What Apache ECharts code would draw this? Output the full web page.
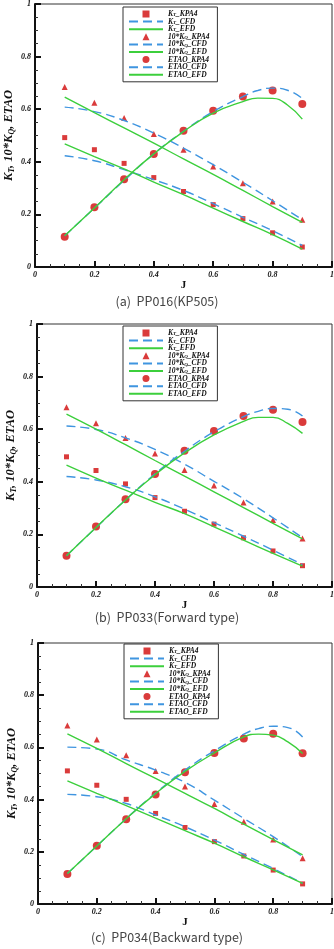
<!DOCTYPE html>
<html><head><meta charset="utf-8">
<script src="https://cdn.jsdelivr.net/npm/echarts@6/dist/echarts.min.js"></script>
<style>html,body{margin:0;padding:0;background:#fff;}#c{width:334px;height:949px;}</style>
</head><body><div id="c"></div>
<script>
// ---- data ----
const jPts = [0.1,0.2,0.3,0.4,0.5,0.6,0.7,0.8,0.9];
const jCurve = [0.1,0.2,0.3,0.4,0.5,0.6,0.7,0.75,0.8,0.85,0.9];
const captions = ['(a)  PP016(KP505)','(b)  PP033(Forward type)','(c)  PP034(Backward type)'];
const seriesNames = ['KT_KPA4','KT_CFD','KT_EFD','10KQ_KPA4','10KQ_CFD','10KQ_EFD','ETAO_KPA4','ETAO_CFD','ETAO_EFD'];

// chart (a)
const ktKpaA = [0.492,0.446,0.394,0.340,0.287,0.237,0.184,0.130,0.076];
const ktCfdA = [0.423,0.404,0.370,0.332,0.291,0.241,0.189,0.138,0.082];
const ktEfdA = [0.468,0.420,0.373,0.323,0.275,0.224,0.173,0.123,0.068];
const kqKpaA = [0.684,0.625,0.567,0.506,0.446,0.382,0.318,0.249,0.180];
const kqCfdA = [0.608,0.591,0.557,0.509,0.452,0.389,0.322,0.252,0.180];
const kqEfdA = [0.646,0.587,0.529,0.471,0.411,0.352,0.291,0.230,0.170];
const etaKpaA = [0.115,0.227,0.334,0.430,0.518,0.594,0.648,0.671,0.620];
const etaCfdA = [0.119,0.224,0.329,0.430,0.516,0.591,0.648,0.671,0.680,0.672,0.641];
const etaEfdA = [0.119,0.224,0.332,0.430,0.515,0.585,0.629,0.642,0.641,0.616,0.562];

// chart (b)
const ktKpaB = [0.495,0.443,0.392,0.340,0.288,0.239,0.187,0.137,0.081];
const ktCfdB = [0.420,0.407,0.381,0.343,0.296,0.245,0.193,0.140,0.085];
const ktEfdB = [0.463,0.414,0.368,0.322,0.279,0.229,0.178,0.128,0.079];
const kqKpaB = [0.683,0.623,0.567,0.508,0.445,0.386,0.321,0.255,0.184];
const kqCfdB = [0.612,0.599,0.567,0.523,0.467,0.402,0.336,0.263,0.188];
const kqEfdB = [0.657,0.600,0.541,0.481,0.422,0.362,0.302,0.242,0.183];
const etaKpaB = [0.119,0.230,0.334,0.430,0.518,0.593,0.650,0.674,0.627];
const etaCfdB = [0.119,0.226,0.331,0.430,0.516,0.590,0.648,0.668,0.679,0.676,0.650];
const etaEfdB = [0.119,0.226,0.331,0.427,0.510,0.578,0.630,0.645,0.645,0.622,0.584];

// chart (c)
const ktKpaC = [0.510,0.455,0.401,0.347,0.293,0.239,0.184,0.130,0.077];
const ktCfdC = [0.420,0.411,0.385,0.341,0.296,0.245,0.190,0.136,0.079];
const ktEfdC = [0.472,0.424,0.377,0.329,0.281,0.233,0.181,0.131,0.079];
const kqKpaC = [0.684,0.630,0.570,0.510,0.450,0.383,0.315,0.247,0.175];
const kqCfdC = [0.601,0.594,0.552,0.513,0.466,0.398,0.328,0.258,0.181];
const kqEfdC = [0.652,0.596,0.538,0.481,0.424,0.366,0.306,0.247,0.188];
const etaKpaC = [0.115,0.223,0.325,0.420,0.505,0.579,0.634,0.652,0.578];
const etaCfdC = [0.117,0.222,0.327,0.425,0.513,0.587,0.651,0.672,0.681,0.676,0.640];
const etaEfdC = [0.117,0.222,0.327,0.423,0.508,0.579,0.640,0.651,0.647,0.621,0.577];

// ---- layout ----
const RED = '#d10a0a', BLUE = '#3f95e0', GREEN = '#3ccf3c';
const SERIF = '"Liberation Serif","DejaVu Serif",serif';
const panels = [
  {grid:{left:35, top:4, width:297, height:263}, legend:{left:123, top:7}, capTop:295,
   d:[ktKpaA,ktCfdA,ktEfdA,kqKpaA,kqCfdA,kqEfdA,etaKpaA,etaCfdA,etaEfdA]},
  {grid:{left:37, top:324, width:295, height:263}, legend:{left:123, top:326}, capTop:611,
   d:[ktKpaB,ktCfdB,ktEfdB,kqKpaB,kqCfdB,kqEfdB,etaKpaB,etaCfdB,etaEfdB]},
  {grid:{left:38, top:643, width:294, height:261}, legend:{left:124, top:644}, capTop:931,
   d:[ktKpaC,ktCfdC,ktEfdC,kqKpaC,kqCfdC,kqEfdC,etaKpaC,etaCfdC,etaEfdC]}
];

function pairs(xs, ys){ return xs.map((x,i)=>[x, ys[i]]); }

const legendLabel = {
  'KT_KPA4':'{n|K}{s|T}{n|_KPA4}','KT_CFD':'{n|K}{s|T}{n|_CFD}','KT_EFD':'{n|K}{s|T}{n|_EFD}',
  '10KQ_KPA4':'{n|10*K}{s|Q}{n|_KPA4}','10KQ_CFD':'{n|10*K}{s|Q}{n|_CFD}','10KQ_EFD':'{n|10*K}{s|Q}{n|_EFD}',
  'ETAO_KPA4':'{n|ETAO_KPA4}','ETAO_CFD':'{n|ETAO_CFD}','ETAO_EFD':'{n|ETAO_EFD}'
};
const legendIcons = {
  'KT_KPA4':'path://M0,0L10,0L10,10L0,10Z',
  '10KQ_KPA4':'path://M5,0L10,10L0,10Z',
  'ETAO_KPA4':'path://M5,0A5,5,0,1,1,4.99,0Z'
};

const axisCommon = {
  type:'value', min:0, max:1, interval:0.2,
  axisLine:{show:true, onZero:false, lineStyle:{color:'#111', width:2}},
  axisTick:{show:true, inside:true, length:6, lineStyle:{color:'#111', width:2}},
  minorTick:{show:true, splitNumber:4, length:3, lineStyle:{color:'#333', width:1}},
  splitLine:{show:false},
  axisLabel:{fontFamily:SERIF, fontWeight:'bold', fontStyle:'italic', fontSize:8, color:'#111', margin:4,
    formatter:v=>String(Math.round(v*10)/10)}
};

const option = {animation:false, backgroundColor:'#fff', grid:[], xAxis:[], yAxis:[], series:[], legend:[], title:[]};

panels.forEach((p, gi)=>{
  option.grid.push(Object.assign({show:true, borderColor:'#333', borderWidth:1, backgroundColor:'transparent',
    containLabel:false, outerBoundsMode:'none'}, p.grid));
  option.xAxis.push(Object.assign({}, axisCommon, {gridIndex:gi, name:'J', nameLocation:'middle', nameGap:13,
    nameMoveOverlap:false,
    nameTextStyle:{fontFamily:SERIF, fontWeight:'bold', fontSize:11, color:'#111'}}));
  option.yAxis.push(Object.assign({}, axisCommon, {gridIndex:gi, name:'{n|K}{s|T}{n|, 10*K}{s|Q}{n|, ETAO}',
    nameLocation:'middle', nameGap:19, nameRotate:90, nameMoveOverlap:false,
    nameTextStyle:{rich:{
      n:{fontFamily:SERIF, fontWeight:'bold', fontStyle:'italic', fontSize:12.5, color:'#111', lineHeight:15, verticalAlign:'middle'},
      s:{fontFamily:SERIF, fontWeight:'bold', fontStyle:'italic', fontSize:8, color:'#111', lineHeight:15, verticalAlign:'bottom'}}}}));
  const d = p.d;
  const mk = (name, data, type, extra)=>Object.assign({name, type, xAxisIndex:gi, yAxisIndex:gi, data, silent:true}, extra);
  const cfd = {showSymbol:false, symbol:'none', smooth:true, lineStyle:{color:BLUE, width:1.4, type:[9,5]}, itemStyle:{color:BLUE}, z:3};
  const efd = {showSymbol:false, symbol:'none', smooth:true, lineStyle:{color:GREEN, width:1.4}, itemStyle:{color:GREEN}, z:4};
  option.series.push(
    mk('KT_KPA4', pairs(jPts,d[0]), 'scatter', {symbol:'rect', symbolSize:5, itemStyle:{color:RED}, z:2}),
    mk('KT_CFD', pairs(jPts,d[1]), 'line', cfd),
    mk('KT_EFD', pairs(jPts,d[2]), 'line', efd),
    mk('10KQ_KPA4', pairs(jPts,d[3]), 'scatter', {symbol:'triangle', symbolSize:6, itemStyle:{color:RED}, z:2}),
    mk('10KQ_CFD', pairs(jPts,d[4]), 'line', cfd),
    mk('10KQ_EFD', pairs(jPts,d[5]), 'line', efd),
    mk('ETAO_KPA4', pairs(jPts,d[6]), 'scatter', {symbol:'circle', symbolSize:8, itemStyle:{color:RED}, z:2}),
    mk('ETAO_CFD', pairs(jCurve,d[7]), 'line', cfd),
    mk('ETAO_EFD', pairs(jCurve,d[8]), 'line', efd)
  );
  option.legend.push({
    data:seriesNames.map(n=>legendIcons[n] ? {name:n, icon:legendIcons[n]} : {name:n, itemStyle:{opacity:0}}),
    orient:'vertical', left:p.legend.left, top:p.legend.top,
    padding:[3,8,3,5], itemGap:-0.4, itemWidth:34, itemHeight:7,
    backgroundColor:'#fff', borderColor:'#333', borderWidth:1, borderRadius:0,
    selectedMode:false, inactiveColor:'#000',
    formatter:n=>legendLabel[n],
    textStyle:{rich:{
      n:{fontFamily:SERIF, fontWeight:'bold', fontStyle:'italic', fontSize:7.5, color:'#111', lineHeight:7, verticalAlign:'middle'},
      s:{fontFamily:SERIF, fontWeight:'bold', fontStyle:'italic', fontSize:5, color:'#111', lineHeight:7, verticalAlign:'bottom'}}}
  });
  option.title.push({text:captions[gi], left:'center', top:p.capTop, padding:0,
    textStyle:{fontFamily:'"Noto Sans CJK KR","Liberation Sans",sans-serif', fontWeight:'normal', fontSize:12.5, color:'#444'}});
});

const chart = echarts.init(document.getElementById('c'), null, {renderer:'canvas'});
chart.setOption(option);
</script></body></html>
